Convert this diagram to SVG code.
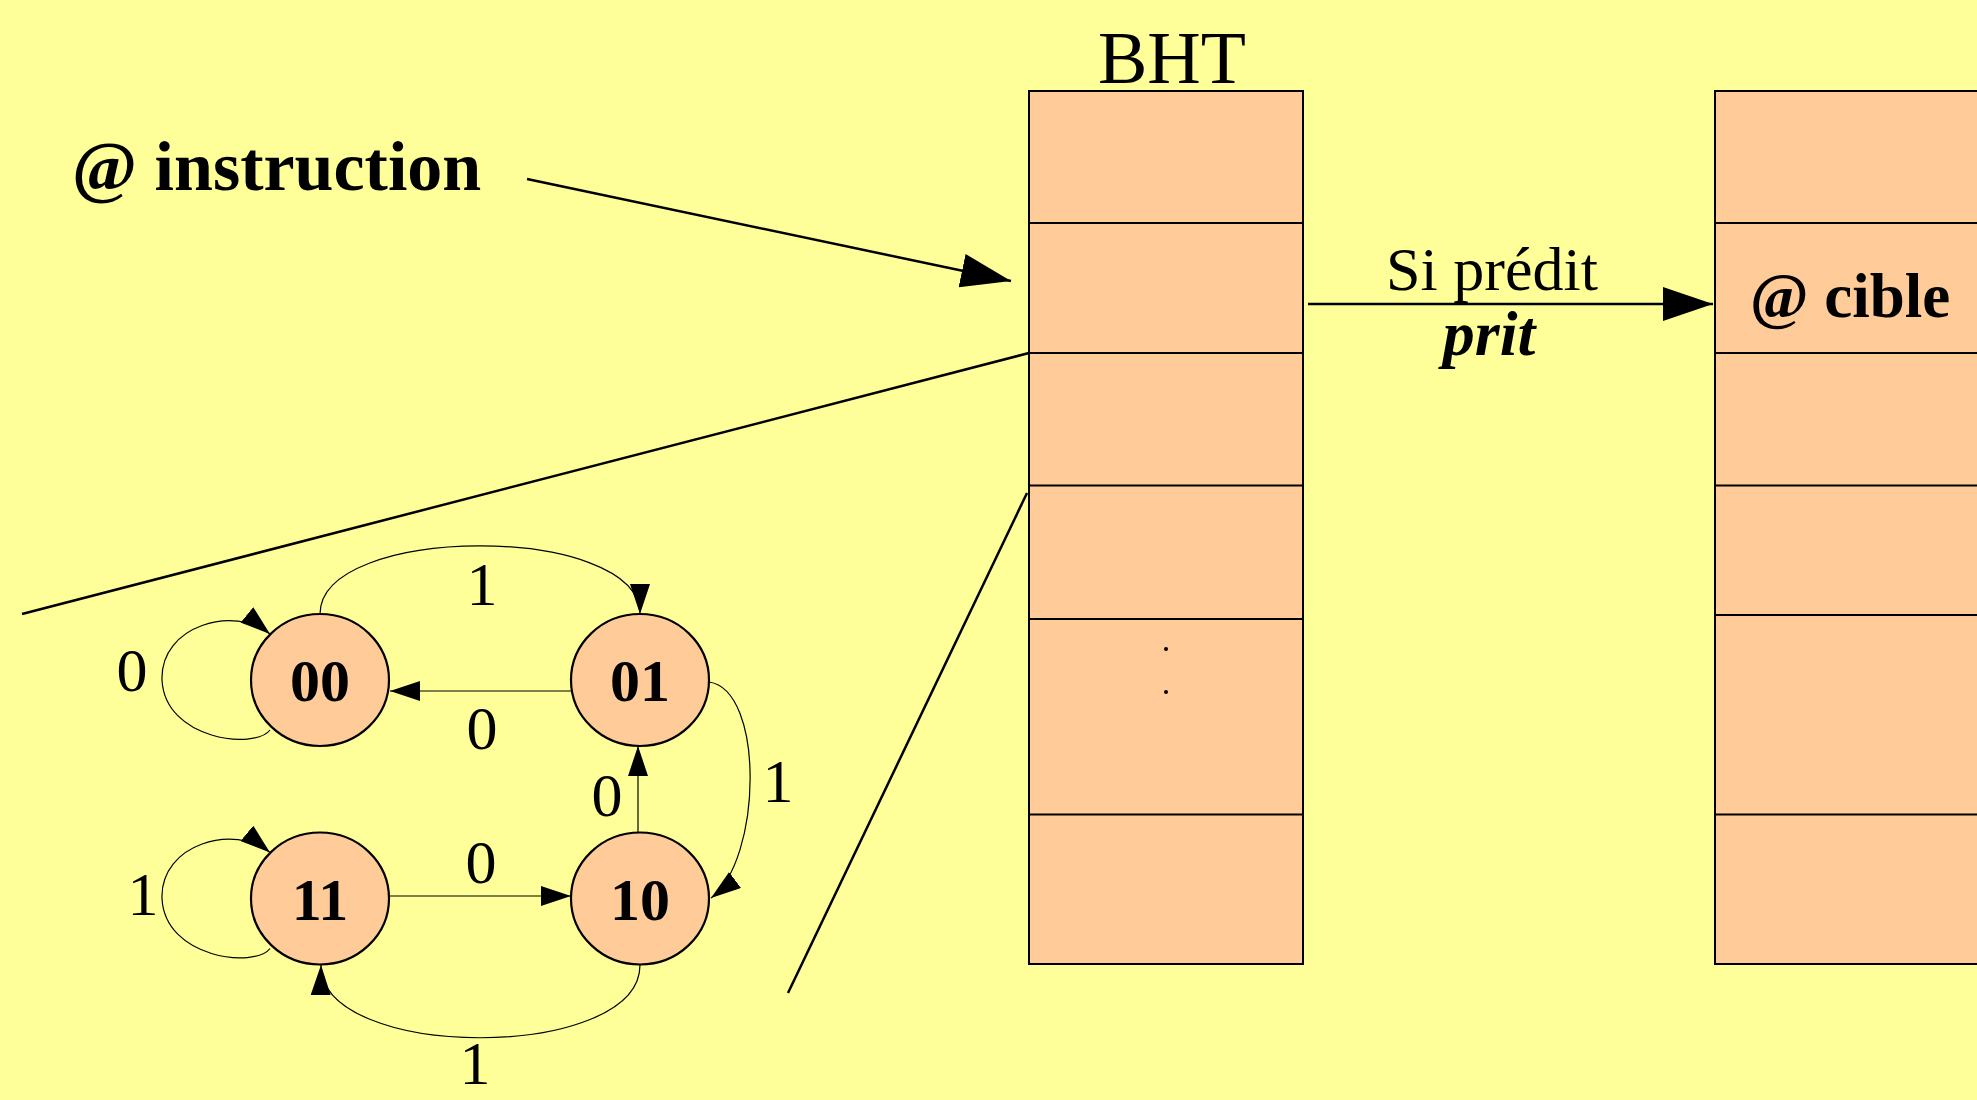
<svg xmlns="http://www.w3.org/2000/svg" width="1977" height="1100" viewBox="0 0 1977 1100">
<style>
.bg{fill:#FFFF99}
.cell{fill:#FFCC99;stroke:#000;stroke-width:2}
.row{stroke:#000;stroke-width:2;fill:none}
.state{fill:#FFCC99;stroke:#000;stroke-width:2.2}
.slab{font-family:"Liberation Serif","Times New Roman",serif;font-weight:bold;font-size:60px;text-anchor:middle}
.elab{font-family:"Liberation Serif","Times New Roman",serif;font-size:62px;text-anchor:middle}
.big{stroke:#000;stroke-width:2.5;fill:none}
.thin{stroke:#000;stroke-width:1.2;fill:none}
</style>
<defs>
<marker id="bigArrow" viewBox="0 0 50 34" refX="50" refY="17" markerWidth="50" markerHeight="34" markerUnits="userSpaceOnUse" orient="auto">
<path d="M0,0 L50,17 L0,34 Z" fill="#000"/>
</marker>
<marker id="smallArrow" viewBox="0 0 30 20" refX="30" refY="10" markerWidth="30" markerHeight="20" markerUnits="userSpaceOnUse" orient="auto">
<path d="M0,0 L30,10 L0,20 Z" fill="#000"/>
</marker>
</defs>
<rect class="bg" x="0" y="0" width="1977" height="1100"/>

<g id="instruction-label">
<text x="72" y="190" font-family="'Liberation Serif','Times New Roman',serif" font-weight="bold" font-size="70">@ instruction</text>
</g>

<g id="bht">
<text x="1172" y="83" font-family="'Liberation Serif','Times New Roman',serif" font-size="74" text-anchor="middle">BHT</text>
<rect class="cell" x="1029" y="91" width="274" height="873"/>
<line class="row" x1="1029" y1="223" x2="1303" y2="223"/>
<line class="row" x1="1029" y1="353" x2="1303" y2="353"/>
<line class="row" x1="1029" y1="485.5" x2="1303" y2="485.5"/>
<line class="row" x1="1029" y1="619" x2="1303" y2="619"/>
<line class="row" x1="1029" y1="814.5" x2="1303" y2="814.5"/>
<circle cx="1166" cy="649" r="2" fill="#000"/>
<circle cx="1166" cy="692" r="2" fill="#000"/>
</g>

<g id="target">
<rect class="cell" x="1715" y="91" width="300" height="873"/>
<line class="row" x1="1715" y1="223" x2="1977" y2="223"/>
<line class="row" x1="1715" y1="353" x2="1977" y2="353"/>
<line class="row" x1="1715" y1="485.5" x2="1977" y2="485.5"/>
<line class="row" x1="1715" y1="615" x2="1977" y2="615"/>
<line class="row" x1="1715" y1="814.5" x2="1977" y2="814.5"/>
<text x="1750" y="317" font-family="'Liberation Serif','Times New Roman',serif" font-weight="bold" font-size="63">@ cible</text>
</g>

<g id="s00"><ellipse class="state" cx="320" cy="680" rx="69" ry="66"/><text class="slab" x="320" y="701">00</text></g>
<g id="s01"><ellipse class="state" cx="640" cy="680" rx="69" ry="66"/><text class="slab" x="640" y="701">01</text></g>
<g id="s11"><ellipse class="state" cx="320" cy="898.5" rx="69" ry="66"/><text class="slab" x="320" y="919.5">11</text></g>
<g id="s10"><ellipse class="state" cx="640" cy="898.5" rx="69" ry="66"/><text class="slab" x="640" y="919.5">10</text></g>

<g id="connectors">
<line class="big" x1="527" y1="179" x2="1011" y2="281" marker-end="url(#bigArrow)"/>
<line class="big" x1="1308" y1="304" x2="1713" y2="304" marker-end="url(#bigArrow)"/>
<line class="big" x1="1029" y1="353" x2="22" y2="614"/>
<line class="big" x1="1027" y1="493" x2="788" y2="993"/>

<path class="thin" d="M320,615 C318,523 640,523 640,614" marker-end="url(#smallArrow)"/>
<line class="thin" x1="571" y1="691" x2="390" y2="691" marker-end="url(#smallArrow)"/>
<path class="thin" d="M270,730 C255,750 165,740 162,680 C160,625 235,605 270,634" marker-end="url(#smallArrow)"/>
<path class="thin" d="M709,682 C765,690 762,860 711,898" marker-end="url(#smallArrow)"/>
<line class="thin" x1="638" y1="833" x2="638" y2="746" marker-end="url(#smallArrow)"/>
<line class="thin" x1="389" y1="896" x2="571" y2="896" marker-end="url(#smallArrow)"/>
<path class="thin" d="M270,948.5 C255,968.5 165,958.5 162,898.5 C160,843.5 235,823.5 270,852.5" marker-end="url(#smallArrow)"/>
<path class="thin" d="M640,965 C640,1062 320,1062 321,965" marker-end="url(#smallArrow)"/>

<text x="1492" y="290" font-family="'Liberation Serif','Times New Roman',serif" font-size="62" text-anchor="middle">Si prédit</text>
<text x="1489" y="355" font-family="'Liberation Serif','Times New Roman',serif" font-weight="bold" font-style="italic" font-size="64" text-anchor="middle">prit</text>

<text class="elab" x="482" y="605">1</text>
<text class="elab" x="482" y="749">0</text>
<text class="elab" x="132" y="691">0</text>
<text class="elab" x="778" y="802">1</text>
<text class="elab" x="607" y="816">0</text>
<text class="elab" x="481" y="883">0</text>
<text class="elab" x="143" y="915">1</text>
<text class="elab" x="475" y="1084">1</text>
</g>
</svg>
